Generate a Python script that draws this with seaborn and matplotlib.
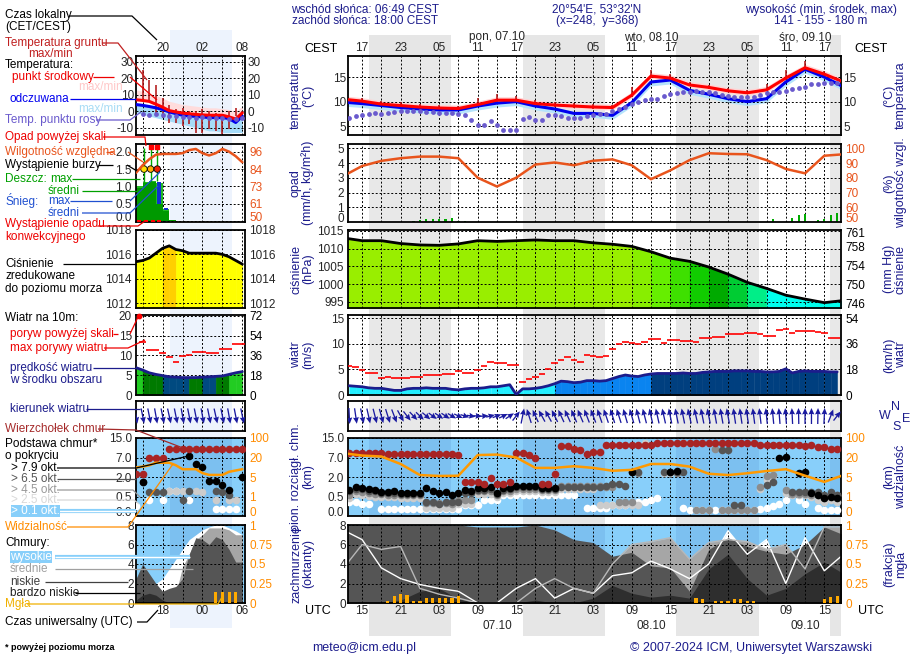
import numpy as np
import matplotlib
matplotlib.use("Agg")
import matplotlib.pyplot as plt
from matplotlib.ticker import NullLocator
import seaborn as sns

sns.set_style("white")
plt.rcParams["font.family"] = ["Liberation Sans", "DejaVu Sans"]
plt.rcParams["font.size"] = 8.5
plt.rcParams["axes.unicode_minus"] = False

n = np.nan

# ---------------- data (hours UTC counted from 06.10 00:00) ----------------
hours = np.arange(13, 90)          # hourly values
hours3 = np.arange(12, 91, 3)      # 3-hourly values
t_start, t_end = 12.8, 89.6
nights = [(16.0, 28.8), (40.0, 52.8), (63.9, 76.9), (87.9, 89.6)]

major_h = np.arange(15, 88, 6)
minor_h = np.arange(18, 88, 6)
lbl_cest = ["17", "23", "05", "11", "17", "23", "05", "11", "17", "23", "05", "11", "17"]
lbl_utc = ["15", "21", "03", "09", "15", "21", "03", "09", "15", "21", "03", "09", "15"]
day_h = [36, 60, 84]
day_top = ["pon, 07.10", "wto, 08.10", "śro, 09.10"]
day_bot = ["07.10", "08.10", "09.10"]

temp = np.array([10.5, 10.1, 9.5, 9.2, 8.9, 8.7, 8.6, 9.4, 10.3, 10.3, 9.6, 9.3, 9.1, 8.9,
                 8.8, 11.3, 15.2, 14.8, 13.4, 12.9, 12.2, 11.8, 12.4, 14.8, 16.9, 15.6, 14.0])
feel = np.array([9.9, 9.6, 9.2, 8.8, 8.5, 8.3, 8.3, 9.1, 9.7, 10.0, 9.1, 8.5, 7.6, 7.6,
                 7.2, 9.8, 14.0, 14.4, 12.3, 11.5, 10.6, 10.0, 10.6, 14.0, 16.6, 15.0, 13.0])
ground_max = np.array([11.3, 10.8, 10.2, 9.9, 9.6, 9.3, 9.2, 10.8, 11.6, 11.2, 10.3, 10.0, 9.8, 9.5,
                       9.4, 13.0, 16.4, 15.6, 14.0, 13.4, 12.7, 12.4, 13.6, 16.5, 18.2, 16.3, 14.8])
ground_min = np.array([10.2, 9.8, 9.2, 8.9, 8.6, 8.4, 8.3, 9.1, 10.0, 10.0, 9.3, 9.0, 8.8, 8.6,
                       8.5, 11.0, 14.9, 14.5, 13.1, 12.6, 11.9, 11.5, 12.1, 14.5, 16.6, 15.3, 13.7])
dew = np.array([6.6, 7.0, 7.2, 7.4, 7.6, 7.5, 7.7, 7.8, 8.0, 8.0, 8.1, 8.0,
                7.8, 7.9, 7.7, 7.6, 7.6, 7.4, 7.2, 6.2, 5.2, 5.2, 6.0, 5.2,
                4.2, 4.2, 4.2, 6.5, 6.8, 6.2, 6.2, 7.3, 7.3, 7.0, 6.6, 6.6,
                6.6, 7.0, 7.3, 7.5, 7.5, 8.0, 8.5, 9.0, 9.5, 9.9, 10.3, 10.6,
                10.6, 11.1, 11.6, 11.8, 11.9, 12.0, 12.1, 12.0, 11.9, 11.8, 11.4, 11.1,
                11.0, 11.0, 11.0, 11.0, 11.3, 11.7, 11.9, 11.9, 12.2, 12.5, 12.7, 13.0,
                13.5, 13.5, 13.7, 13.7, 13.8])

humid = np.array([81, 88, 91.5, 93.3, 94.4, 94.4, 93.3, 80, 74, 80, 89, 90.4, 88.5, 91.6,
                  92.5, 88.5, 79, 85, 92, 96.7, 96.2, 96, 92, 86, 83, 95, 96])
rain_h = [23, 24, 25, 26, 27, 28, 29, 30, 31, 79, 82, 83, 84, 86, 87, 88, 89]
rain_v = [0.1, 0.15, 0.2, 0.18, 0.2, 0.18, 0.3, 0.08, 0.05, 0.2, 0.3, 0.45, 0.55, 0.15, 0.2, 0.45, 0.6]

press = np.array([1013.0, 1012.2, 1012.2, 1011.4, 1011.0, 1010.9, 1011.3, 1012.2, 1012.0, 1012.2,
                  1012.4, 1012.2, 1012.2, 1011.6, 1011.2, 1010.6, 1009.1, 1007.3, 1006.4, 1004.8,
                  1002.8, 1000.5, 998.8, 996.9, 995.8, 994.8, 995.4])

wind = np.array([1.8, 1.7, 1.6, 1.4, 1.3, 1.3, 1.1, 0.9, 0.9, 1.2, 1.3, 1.3,
                 1.4, 1.3, 1.3, 1.3, 1.1, 1.0, 1.2, 1.3, 1.3, 1.4, 1.6, 1.6,
                 1.8, 2.0, 0.1, 1.2, 1.2, 1.3, 1.5, 1.8, 2.2, 2.7, 2.6, 2.4,
                 2.5, 2.8, 2.8, 2.7, 2.8, 3.2, 3.6, 3.9, 3.7, 3.6, 3.9, 4.1,
                 4.2, 4.2, 4.2, 4.2, 4.3, 4.2, 4.2, 4.4, 4.5, 4.6, 4.6, 4.6,
                 4.7, 4.7, 4.7, 4.6, 4.6, 4.5, 4.5, 4.6, 5.1, 4.3, 4.6, 4.7,
                 4.6, 4.6, 4.6, 4.5, 4.5])
gust = np.array([5.6, 5.5, 4.9, 4.3, 4.3, 3.4, 3.5, 3.4, 3.3, 3.3, 3.5, 3.5,
                 3.9, 3.9, 3.9, 4.1, 4.1, 4.6, 4.2, 4.2, 4.8, 5.6, 6.5, 6.3,
                 6.3, 5.9, 5.9, 2.6, 3.1, 3.5, 4.1, 5.1, 6.3, 6.9, 7.5, 6.9,
                 6.5, 7.8, 7.6, 7.4, 7.6, 9.0, 10.0, 10.3, 10.2, 9.9, 10.4, 11.0,
                 11.0, 10.1, 10.7, 10.7, 10.6, 10.5, 10.4, 11.1, 11.1, 11.4, 11.4, 11.8,
                 11.9, 11.9, 12.1, 12.1, 11.8, 11.6, 11.6, 12.7, 12.9, 12.1, 12.4, 12.4,
                 12.4, 12.3, 12.1, 11.1, 11.1])
wdir = np.array([355, 345, 340, 338, 335, 333, 330, 325, 315, 305, 300, 298,
                 295, 292, 290, 290, 288, 285, 280, 275, 272, 268, 262, 258,
                 255, 250, 235, 200, 150, 140, 135, 135, 138, 140, 140, 142,
                 142, 145, 145, 148, 148, 150, 150, 152, 152, 155, 155, 158,
                 158, 158, 160, 160, 160, 158, 158, 160, 160, 162, 162, 162,
                 165, 165, 165, 167, 168, 170, 170, 172, 172, 175, 178, 180,
                 180, 182, 185, 215, 235])

# cloud tops and cloud bases by coverage class (km a.s.l.)
cl_top = np.array([9.0, 9.0, 9.0, 9.0, 9.0, 9.0, 8.6, 8.6, 8.6, 8.6, 8.6, 8.6,
                   8.6, 8.6, 8.6, 8.4, 8.4, 8.0, 1.6, 1.6, 1.6, 1.5, 1.9, 1.5,
                   1.5, 1.6, 9.0, 9.0, 8.2, 7.0, 1.5, 1.5, 2.8, 11.6, 11.6, 10.6,
                   10.0, 8.6, 9.4, 9.4, 12.0, 12.0, 12.0, 12.0, 12.0, 12.0, 12.0, 12.0,
                   13.0, 13.0, 13.0, 13.0, 13.0, 13.0, 13.0, 13.0, 13.0, 13.0, 13.0, 13.0,
                   13.0, 13.0, 13.0, 13.0, 12.2, 12.2, 12.2, 12.2, 12.2, 12.2, 12.2, 11.6,
                   12.0, 11.2, 11.5, 10.4, 10.6])
cl_79 = np.array([1.0, 1.25, 1.18, 1.07, 1.0, 0.86, 0.86, 0.92, 0.8, 0.8, 0.8, 0.8,
                  1.13, 0.92, 0.74, 0.86, 0.6, 0.8, 1.0, 0.92, 1.18, 1.18, 1.25, 0.8,
                  1.13, 1.18, 1.33, 1.33, 1.33, 1.33, 1.13, 1.13, 1.13, n, n, n,
                  n, n, n, n, n, n, n, n, 3.3, n, n, n,
                  n, n, 3.4, 3.5, n, n, n, n, n, n, n, n,
                  n, n, n, n, n, n, n, 6.8, 7.2, n, 2.9, 3.2,
                  0.74, 0.6, 0.45, 0.5, 0.45])
cl_65 = np.array([0.9, 1.1, 1.05, 0.95, 0.9, 0.8, 0.75, 0.8, 0.7, 0.7, 0.7, 0.7,
                  0.37, 0.37, 0.3, 0.37, 0.37, 0.37, 0.8, 0.8, 1.0, 1.0, 1.1, 0.7,
                  1.0, 1.05, 1.2, 1.2, 1.2, 1.2, 1.05, 1.05, 1.05, 1.2, 1.2, 1.2,
                  1.2, 1.2, 1.2, 1.2, 1.3, 1.5, 1.5, 1.3, 3.2, 3.2, n, n,
                  n, 3.3, 3.3, 3.4, 3.2, n, n, n, n, n, 10.2, 10.2,
                  0.27, 0.27, n, n, n, 1.4, 1.6, n, n, 0.86, 0.86, 0.86,
                  0.86, 0.86, 0.6, 0.86, 0.6])
cl_45 = np.array([0.6, 0.9, 0.85, 0.75, 0.7, 0.7, 0.65, 0.65, 0.6, 0.6, 0.6, 0.6,
                  0.33, 0.33, 0.33, 0.33, 0.3, 0.42, 0.42, 0.42, 0.9, 0.9, 0.9, 0.6,
                  0.9, 0.9, 1.1, 1.1, 1.1, 1.1, 1.0, 1.0, 1.0, 1.33, 1.33, 1.33,
                  1.33, 1.33, 1.33, 1.33, 1.2, 1.2, 0.35, 0.35, 0.35, 3.0, n, n,
                  n, n, n, 3.0, n, n, 0.15, 0.15, 0.15, 10.5, 0.15, 0.15,
                  0.15, 0.15, 0.15, 0.15, 1.2, 2.2, 2.6, n, 1.0, 0.7, 0.7, 0.7,
                  0.6, 0.6, 0.45, 0.6, 0.6])
cl_25 = np.array([0.45, 0.7, 0.6, 0.55, 0.5, 0.5, 0.5, 0.5, 0.45, 0.45, 0.45, 0.45,
                  0.2, 0.2, 0.2, 0.2, 0.2, 0.3, 0.3, 0.3, 0.7, 0.7, 0.7, 0.5,
                  0.8, 0.8, 0.9, 0.9, 0.9, 0.9, 0.85, 0.85, 0.85, 1.1, 1.1, 1.1,
                  1.1, 1.1, 1.1, 0.27, 0.27, 0.27, 0.27, 0.27, 0.27, 0.27, 13.0, n,
                  n, 3.0, 3.0, n, 13.0, n, n, n, n, n, n, n,
                  n, n, n, n, 1.1, 1.8, 2.2, n, 0.8, 0.6, 0.6, 0.6,
                  0.5, 0.4, 0.35, 0.4, 0.35])
cl_01 = np.array([0.35, 0.35, 0.32, 0.32, n, 0.17, 0.17, 0.17, 0.17, 0.17, 0.17, 0.17,
                  0.17, 0.17, 0.17, 0.17, 0.17, 0.17, 0.28, 0.28, 0.28, 0.4, 0.4, 0.4,
                  0.65, 0.65, 0.65, 0.65, 0.65, 0.65, 0.65, 0.65, 0.65, 0.65, 0.65, 0.65,
                  n, 0.2, 0.2, 0.2, 0.2, 0.27, 0.27, 0.27, 0.3, 0.35, 0.35, 0.4,
                  0.45, n, n, n, 0.2, 0.16, 0.16, 0.16, 0.16, 0.16, 0.16, 0.16,
                  0.16, 0.16, 0.16, 0.16, 0.17, 0.2, 0.25, 0.3, 0.4, n, 0.4, 0.3,
                  n, 0.2, 0.16, 0.16, 0.16])
vis = np.array([38, 28, 24, 15, 6.5, 5.8, 6.0, 30, 32, 20, 12, 12, 13.3, 12,
                9.8, 10.5, 15, 15, 13, 7.5, 6.5, 7.9, 9.6, 11, 6.0, 4.0, 6.5])

# cloud cover (oktas) and fog (fraction)
cc_high = np.array([7.5, 6.5, 3.6, 2.5, 1.9, 1.5, 1.2, 0, 0, 1.5, 2.5, 0.5, 1.5, 1.0,
                    2.8, 3.1, 4.3, 3.5, 2.5, 4.0, 7.4, 5.0, 6.5, 2.0, 6.7, 3.3, 5.0])
cc_mid = np.array([3.5, 6.0, 5.5, 5.8, 1.5, 0.9, 0.5, 0, 0, 0, 1.5, 2.5, 1.5, 1.0,
                   4.0, 6.0, 6.3, 6.7, 4.5, 6.2, 6.5, 6.3, 5.5, 6.0, 3.5, 7.8, 7.8])
cc_low = np.array([8, 8, 8, 8, 8, 8, 8, 7.8, 7.8, 7.8, 8, 7.5, 6.5, 6.2,
                   4.8, 5.2, 3.8, 3.6, 1.2, 5.5, 6.7, 5.8, 5.3, 5.0, 6.0, 7.8, 7.0])
cc_vlow = np.array([0, 0, 0, 0.3, 1.2, 1.5, 0.4, 0, 0, 0, 0.3, 0, 0, 0.5,
                    1.8, 1.0, 0.6, 0.8, 0.5, 3.5, 5.0, 2.5, 0.8, 1.5, 3.0, 4.2, 3.0])
fog_h = [19, 20, 21, 22, 23, 24, 25, 26, 27, 28, 29, 30, 67, 68, 70, 71, 72, 73, 74, 75, 76, 87, 88, 89]
fog_v = [0.03, 0.085, 0.11, 0.1, 0.03, 0.03, 0.065, 0.065, 0.065, 0.06, 0.065, 0.085,
         0.06, 0.05, 0.03, 0.02, 0.03, 0.045, 0.045, 0.03, 0.02, 0.05, 0.08, 0.09]

# ---- legend (left column) sample data, local panel hours 0..16
leg_h = np.arange(0, 17)
leg_night = (5.1, 14.4)
leg_temp = [6.9, 6.5, 5.9, 4.2, 2.4, 0.3, -0.5, -1.2, -1.6, -2.0, -2.3, -2.5, -2.5, -2.5, -3.5, -4.8, -1.0]
leg_temp_hi = [13, 12, 11, 9.5, 8, 6, 5, 4, 3.5, 3, 2.5, 2, 2, 1.5, 1, 0, 3]
leg_feel = [4.0, 3.5, 2.8, 2.0, 1.0, -0.5, -1.5, -2.5, -2.9, -3.2, -3.5, -3.9, -3.9, -3.9, -4.5, -6.9, -3.0]
leg_feel_lo = [-1, -2, -3, -4, -5, -6, -7, -8, -9, -10, -11, -12, -12, -13, -13, -13, -13]
leg_dew = [n, -2.0, -2.2, -2.0, -2.5, -2.8, -3.0, -3.5, -3.5, -4.0, -3.8, -4.0, -4.2, -4.0, -4.5, -5.0, -4.0]
leg_gh = np.arange(1, 16)
leg_gmax = [25, 19, 16, 8, 4, 1, 2, 0, 0, 1, 0, -1, -2, 0, 2]
leg_gmin = [6, 6, -2, -4, -7, -7, -9, -8, -13, -13, -11, -12, -14, -11, -3]
leg_rain_h = [0.5, 1.5, 2.5, 3.5, 4.5, 5.5]
leg_rain_max = [1.0, 1.12, 1.15, 1.1, 0.35, 0.05]
leg_rain_mean = [0.95, 1.1, 1.12, 0.5, 0.3, 0.05]
leg_snow_max = [0, 0, 0, 1.12, 0.38, 0]
leg_snow_mean = [0, 0, 0, 0.5, 0.33, 0]
leg_storm_h = [1.2, 2.2, 3.2]
leg_hum = [82, 87, 91, 94, 94.5, 94.5, 94.5, 95, 97, 97.8, 95, 93.5, 95, 97.8, 96, 93, 89]
leg_press = [1015.4, 1015.5, 1015.7, 1016.1, 1016.5, 1016.7, 1016.4, 1016.3, 1016.1, 1016.1,
             1016.1, 1016.1, 1016.1, 1016.0, 1015.8, 1015.5, 1015.2]
leg_wind = [6.9, 6.3, 5.6, 5.2, 4.9, 4.6, 4.5, 4.4, 4.4, 4.4, 4.5, 4.6, 4.7, 4.8, 5.2, 5.6, 5.9]
leg_wind_cls = ["L", "D", "D", "D", "N", "N", "N", "N", "D", "D", "N", "N", "D", "D", "L", "L"]
leg_gust = [n, 13.5, 11.4, 11.4, 10.5, 9.6, 8.4, 9.9, 10.2, 10.8, 10.8, 10.5, 10.5, 11.7, 11.7, 12.8, 12.8]
leg_wdir = [342, 340, 340, 342, 340, 338, 340, 342, 340, 340, 342, 340, 338, 340, 342, 340, 340]
leg_top = [2.7, 2.7, 6.8, 6.8, 6.8, 10.5, 10.5, 10.5, 10.5, 10.5, 10.5, 10.5, 10.5, 10.5, 10.5, 10.5, 10.5]
leg_79 = [n, 1.64, n, n, n, n, n, n, 7.6, 5.3, 4.65, 1.7, 1.7, 1.38, 1.0, n, 2.05]
leg_65 = [n, 1.64, 0.86, 0.86, 0.86, n, n, 0.4, 0.9, n, n, n, 0.9, 0.86, 0.6, n, n]
leg_25 = [n, n, n, n, n, 0.9, 0.9, 0.9, n, 0.9, 0.85, n, 0.4, n, 0.4, 0.4, n]
leg_01 = [0.25, n, 0.4, n, 0.4, 0.9, 0.9, n, 0.4, n, n, n, 0.17, 0.17, 0.17, 0.17, n]
leg_vis = [12.3, 13, 14, 16, 16, 16, 14, 11, 11, 11, 8, 6.6, 6.6, 6.6, 9, 10, 11]
leg_high = [0.5, 1, 1.5, 2, 2.5, 3.5, 4.5, 5.5, 6.5, 7.0, 7.5, 7.8, 8.0, 8.0, 7.7, 7.4, 7.0]
leg_mid = [0, 0, 0, 0, 0, 0, 1.0, 3.7, 5.0, 6.5, 7.0, 7.7, 7.7, 7.7, 7.5, 7.0, 7.0]
leg_low = [2.5, 4.0, 3.0, 2.0, 1.2, 1.5, 1.7, 2.5, 5.0, 6.7, 6.5, 6.0, 6.8, 6.5, 5.5, 4.2, 4.2]
leg_vlow = [0.3, 0.8, 1.0, 0.8, 0.3, 0, 0, 0, 0, 0, 0, 0, 0, 0, 0, 0, 0]
leg_fog_h = [12, 13, 14, 15]
leg_fog = [0.14, 0.14, 0.14, 0.14]

# ---------------- styling ----------------
W, H = 910, 660
NAVY = "#1c1c8c"
RED = "#ee0000"
HUM = "#e8541c"
ORANGE = "#ff8c00"
SKY, SKY_N = "#88cffa", "#7cc0f0"
GRID = dict(color="black", linestyle=(0, (2, 2)), linewidth=0.7)
MX0, MX1 = 348, 841
LX0, LX1 = 136, 245
rows = {"temp": (56, 135), "rain": (144, 222), "press": (230, 308), "wind": (315, 395),
        "wdir": (401, 431), "cbase": (438, 516), "cc": (525, 603)}
km_lv = [0, 0.5, 2, 7, 15]
vis_lv = [0, 1, 5, 20, 100]
idx_lv = [0, 1, 2, 3, 4]
km_scale = (lambda y: np.interp(y, km_lv, idx_lv), lambda i: np.interp(i, idx_lv, km_lv))
vis_scale = (lambda y: np.interp(y, vis_lv, idx_lv), lambda i: np.interp(i, idx_lv, vis_lv))
press_bins = [999, 1002, 1003.3, 1005, 1006.5, 1008.5, 1010, 1010.8, 1013.5, 1016.45]
press_cols = ["#00ffee", "#00ee88", "#00cc33", "#00aa00", "#11cc00", "#3ee000", "#66ee00",
              "#88ee00", "#99ee00", "#ffff00", "#ffd000"]
leg_wind_cols = {"L": "#22cc22", "D": "#007a00", "N": "#004a80"}

fig = plt.figure(figsize=(W / 100, H / 100), dpi=100)


def px_axes(x0, y0, x1, y1, z=1):
    return fig.add_axes([x0 / W, 1 - y1 / H, (x1 - x0) / W, (y1 - y0) / H], zorder=z)


def frame(ax):
    for s in ax.spines.values():
        s.set_visible(True)
        s.set_color("black")
        s.set_linewidth(1.3)


def panel(x0, x1, key, xlim, spans, span_col, ylim, yticks, ylabels, bg, yscale, major, minor):
    y0, y1 = rows[key]
    ax = px_axes(x0, y0, x1, y1)
    ax.set_facecolor(bg)
    if yscale is not None:
        ax.set_yscale("function", functions=yscale)
    for a, b in spans:
        ax.axvspan(a, b, color=span_col, lw=0, zorder=0)
    ax.set_xlim(*xlim)
    ax.set_ylim(*ylim)
    ax.set_xticks(major)
    ax.set_xticks(minor, minor=True)
    ax.set_yticks(yticks)
    ax.yaxis.set_minor_locator(NullLocator())
    if ylabels is not None:
        ax.set_yticklabels(ylabels)
    ax.tick_params(which="both", length=0, pad=3, labelbottom=False)
    ax.grid(True, which="both", **GRID)
    ax.set_axisbelow("line")
    frame(ax)
    return ax


def main_panel(key, ylim, yticks, ylabels=None, bg="white", night="#e8e8e8", yscale=None):
    return panel(MX0, MX1, key, (t_start, t_end), nights, night, ylim, yticks, ylabels,
                 bg, yscale, major_h, minor_h)


def leg_panel(key, ylim, yticks, ylabels=None, bg="white", night="#edf3fd", yscale=None):
    return panel(LX0, LX1, key, (0, 16.4), [leg_night], night, ylim, yticks, ylabels,
                 bg, yscale, [4, 10, 16], [1, 7, 13])


def twin(ax, ylim, ticks, color, labels=None, yscale=None):
    tw = ax.twinx()
    if yscale is not None:
        tw.set_yscale("function", functions=yscale)
    tw.set_ylim(*ylim)
    tw.set_yticks(ticks)
    tw.yaxis.set_minor_locator(NullLocator())
    if labels is not None:
        tw.set_yticklabels(labels)
    tw.tick_params(length=0, pad=3, labelcolor=color)
    tw.grid(False)
    for s in tw.spines.values():
        s.set_visible(False)
    return tw


def lift_bottom(*axes):
    # keep the lowest tick label clear of the panel below
    for a in axes:
        t = a.yaxis.get_major_ticks()[0]
        t.label1.set_verticalalignment("baseline")
        t.label2.set_verticalalignment("baseline")


def seg_fill(ax, x, y, colors, base):
    for i in range(len(x) - 1):
        ax.fill_between(x[i:i + 2], base, y[i:i + 2], color=colors[i], lw=0.4,
                        edgecolor=colors[i], zorder=1)


def top_labels(ax, labels):
    ax.tick_params(which="both", top=False, bottom=False, length=0, labeltop=True, pad=1.5)
    ax.set_xticklabels(labels)


def bottom_labels(ax, labels):
    ax.tick_params(which="both", top=False, bottom=False, length=0, labelbottom=True, pad=1.5)
    ax.set_xticklabels(labels)


# background night bands behind the panels
bg = px_axes(MX0, 35, MX1, 636, z=-5)
bg.set_xlim(t_start, t_end)
for a, b in nights:
    bg.axvspan(a, b, color="#e6e6e6", lw=0)
bg.axis("off")
bgl = px_axes(LX0, 30, LX1, 628, z=-5)
bgl.set_xlim(0, 16.4)
bgl.axvspan(*leg_night, color="#edf3fd", lw=0)
bgl.axis("off")

ARROWS = dict(pivot="middle", angles="uv", scale_units="inches", scale=1 / 0.16, units="inches",
              width=0.013, headwidth=4.5, headlength=5, headaxislength=4.5, color="#1a1aa0", zorder=3)

# ---------------- main panels ----------------
# temperature
ax = main_panel("temp", (3.2, 19.3), [5, 10, 15])
ax.fill_between(hours3, temp - 0.5, temp + 0.7, color="#ffd5d5", lw=0)
ax.fill_between(hours3, feel - 0.8, feel + 0.4, color="#b5e3fb", lw=0)
ax.vlines(hours3, ground_min, ground_max, color="#b01010", lw=1.1, zorder=2)
sns.lineplot(x=hours3, y=feel, ax=ax, color="#0000ee", lw=2.2, zorder=3)
sns.lineplot(x=hours3, y=temp, ax=ax, color="#ff0000", lw=2.2, zorder=3)
sns.scatterplot(x=hours, y=dew, ax=ax, color="#6a5acd", s=12, linewidth=0, zorder=4)
ax.tick_params(labelright=True)
top_labels(ax, lbl_cest)
for h, s in zip(day_h, day_top):
    ax.text(h, 1.235, s, transform=ax.get_xaxis_transform(), ha="center", va="center")

# precipitation + humidity
ax = main_panel("rain", (0, 5.3), [0, 1, 2, 3, 4, 5])
ax.bar(rain_h, rain_v, width=0.35, color="#00aa00", linewidth=0, zorder=2)
tw = twin(ax, (49.8, 103), [50, 60, 70, 80, 90, 100], HUM)
sns.lineplot(x=hours3, y=humid, ax=tw, color=HUM, lw=1.8)
lift_bottom(ax, tw)

# pressure
ax = main_panel("press", (993.3, 1015.2), [995, 1000, 1005, 1010, 1015])
seg_fill(ax, hours3, press, [press_cols[np.searchsorted(press_bins, p)] for p in press], 990)
sns.lineplot(x=hours3, y=press, ax=ax, color="black", lw=2, zorder=3)
twin(ax, (993.3 * 0.75006, 1015.2 * 0.75006), [746, 750, 754, 758, 761], "black")

# wind speed and gusts
ax = main_panel("wind", (0, 15.6), [0, 5, 10, 15])
wcols = ["#22eeff" if w < 2.1 else ("#0a84f0" if w < 4.0 else "#003f7f") for w in wind]
seg_fill(ax, hours, wind, wcols, 0)
sns.lineplot(x=hours, y=wind, ax=ax, color=NAVY, lw=2, zorder=3)
ax.hlines(gust, hours - 0.5, hours + 0.5, color="red", lw=1.2, zorder=3)
twin(ax, (0, 15.6 * 3.6), [0, 18, 36, 54], "black")

# wind direction
ax = main_panel("wdir", (0, 1), [])
rad = np.radians(wdir)
ax.quiver(hours, np.full(len(hours), 0.5), -np.sin(rad) * 0.55, -np.cos(rad), **ARROWS)

# cloud base / top + visibility
ax = main_panel("cbase", (0, 15), km_lv, ["0.0", "0.5", "2.0", "7.0", "15.0"],
                bg=SKY, night=SKY_N, yscale=km_scale)
for arr, col in [(cl_01, "white"), (cl_25, "#cccccc"), (cl_45, "#8c8c8c"),
                 (cl_65, "#555555"), (cl_79, "black"), (cl_top, "#a82424")]:
    sns.scatterplot(x=hours, y=arr, ax=ax, color=col, s=30, linewidth=0, zorder=4)
tw = twin(ax, (0, 100), vis_lv, ORANGE, ["0", "1", "5", "20", "100"], yscale=vis_scale)
sns.lineplot(x=hours3, y=vis, ax=tw, color="#ff9900", lw=1.8)
lift_bottom(ax, tw)

# cloud cover + fog
ax = main_panel("cc", (0, 8), [0, 2, 4, 6, 8], bg=SKY, night=SKY_N)
ax.fill_between(hours3, 0, cc_high, color="white", lw=0, zorder=1)
ax.fill_between(hours3, 0, cc_mid, color="#a6a6a6", lw=0, zorder=1)
ax.fill_between(hours3, 0, cc_low, color="#555555", lw=0, zorder=1)
ax.fill_between(hours3, 0, cc_vlow, color="#2e2e2e", lw=0, zorder=1)
sns.lineplot(x=hours3, y=cc_high, ax=ax, color="white", lw=1, zorder=2)
sns.lineplot(x=hours3, y=cc_mid, ax=ax, color="#b8b8b8", lw=1, zorder=2)
bottom_labels(ax, lbl_utc)
for h, s in zip(day_h, day_bot):
    ax.text(h, -0.30, s, transform=ax.get_xaxis_transform(), ha="center", va="center")
tw = twin(ax, (0, 1), [0, 0.25, 0.5, 0.75, 1], ORANGE, ["0", "0.25", "0.5", "0.75", "1"])
tw.bar(fog_h, fog_v, width=0.5, color="#ffaa00", linewidth=0, zorder=3)

# ---------------- legend panels (left column) ----------------
ax = leg_panel("temp", (-14.5, 33.5), [-10, 0, 10, 20, 30])
ax.fill_between(leg_h, leg_temp, leg_temp_hi, color="#ffdcdc", lw=0)
ax.fill_between(leg_h, leg_feel_lo, leg_feel, color="#a6dcf8", lw=0)
ax.vlines(leg_gh, leg_gmin, leg_gmax, color="#b01010", lw=1.1, zorder=2)
sns.lineplot(x=leg_h, y=leg_feel, ax=ax, color="#0000ee", lw=2.2, zorder=3)
sns.lineplot(x=leg_h, y=leg_temp, ax=ax, color="#ff0000", lw=2.2, zorder=3)
sns.scatterplot(x=leg_h, y=leg_dew, ax=ax, color="#6a5acd", s=12, linewidth=0, zorder=4)
ax.tick_params(labelright=True)
top_labels(ax, ["20", "02", "08"])

ax = leg_panel("rain", (-0.02, 2.22), [0, 0.5, 1, 1.5, 2], ["0.0", "0.5", "1.0", "1.5", "2.0"])
ax.bar(leg_rain_h, leg_rain_max, width=1, color="#22bb22", linewidth=0, zorder=2)
ax.bar(leg_rain_h, leg_rain_mean, width=1, color="#009900", linewidth=0, zorder=2)
ax.bar(leg_rain_h, np.subtract(leg_snow_max, leg_snow_mean), bottom=leg_snow_mean,
       width=0.6, color="#1030d0", linewidth=0, zorder=2)
ax.vlines(leg_storm_h, [1.0, 1.12, 1.15], 2.1, color="#00aa00", lw=1, zorder=2)
ax.scatter(leg_storm_h, [1.5, 1.5, 1.5], c=["#ffdd00", "#ffaa00", "#ee2200"], s=22,
           edgecolors="black", linewidths=0.6, zorder=5)
ax.scatter(leg_storm_h[1:], [2.12, 2.12], color="red", marker="s", s=10, zorder=5)
ax.hlines([0, 0, 0, 0], [0.2, 1.2, 2.2, 3.2], [0.8, 1.8, 2.8, 3.8], color="red", lw=1.5, zorder=5)
tw = twin(ax, (50 - 23 * 0.02, 50 + 23 * 2.22), [50, 61.5, 73, 84.5, 96], HUM,
          ["50", "61", "73", "84", "96"])
sns.lineplot(x=leg_h, y=leg_hum, ax=tw, color=HUM, lw=1.8)
lift_bottom(ax, tw)

ax = leg_panel("press", (1011.6, 1018.0), [1012, 1014, 1016, 1018])
seg_fill(ax, leg_h, leg_press, [press_cols[np.searchsorted(press_bins, p)] for p in leg_press], 1010)
sns.lineplot(x=leg_h, y=leg_press, ax=ax, color="black", lw=2, zorder=3)
ax.tick_params(labelright=True)

ax = leg_panel("wind", (0, 20.2), [0, 5, 10, 15, 20])
seg_fill(ax, leg_h, leg_wind, [leg_wind_cols[c] for c in leg_wind_cls], 0)
sns.lineplot(x=leg_h, y=leg_wind, ax=ax, color=NAVY, lw=2, zorder=3)
ax.hlines(leg_gust, leg_h - 0.5, leg_h + 0.5, color="red", lw=1.2, zorder=3)
ax.scatter([0.4], [19.9], color="red", s=10, zorder=5, clip_on=False)
twin(ax, (0, 20.2 * 3.6), [0, 18, 36, 54, 72], "black")

ax = leg_panel("wdir", (0, 1), [])
lrad = np.radians(leg_wdir)
ax.quiver(leg_h, np.full(len(leg_h), 0.5), -np.sin(lrad) * 0.55, -np.cos(lrad), **ARROWS)

ax = leg_panel("cbase", (0, 15), km_lv, ["0.0", "0.5", "2.0", "7.0", "15.0"],
               bg=SKY, night=SKY_N, yscale=km_scale)
for arr, col in [(leg_01, "white"), (leg_25, "#cccccc"), (leg_65, "#555555"),
                 (leg_79, "black"), (leg_top, "#a82424")]:
    sns.scatterplot(x=leg_h, y=arr, ax=ax, color=col, s=30, linewidth=0, zorder=4)
tw = twin(ax, (0, 100), vis_lv, ORANGE, ["0", "1", "5", "20", "100"], yscale=vis_scale)
sns.lineplot(x=leg_h, y=leg_vis, ax=tw, color="#ff9900", lw=1.8)
lift_bottom(ax, tw)

ax = leg_panel("cc", (0, 8), [0, 2, 4, 6, 8], bg=SKY, night=SKY_N)
ax.fill_between(leg_h, 0, leg_high, color="white", lw=0, zorder=1)
ax.fill_between(leg_h, 0, leg_mid, color="#a6a6a6", lw=0, zorder=1)
ax.fill_between(leg_h, 0, leg_low, color="#555555", lw=0, zorder=1)
ax.fill_between(leg_h, 0, leg_vlow, color="#2e2e2e", lw=0, zorder=1)
bottom_labels(ax, ["18", "00", "06"])
tw = twin(ax, (0, 1), [0, 0.25, 0.5, 0.75, 1], ORANGE, ["0", "0.25", "0.5", "0.75", "1"])
tw.bar(leg_fog_h, leg_fog, width=0.45, color="#ffaa00", linewidth=0, zorder=3)

# ---------------- texts and leader lines ----------------
ov = px_axes(0, 0, W, H, z=20)
ov.set_xlim(0, W)
ov.set_ylim(H, 0)
ov.axis("off")
ov.patch.set_alpha(0)


def txt(x, y, s, color="black", ha="left", **kw):
    ov.text(x, y, s, color=color, ha=ha, va="center", **kw)


def lead(pts, color, lw=0.9):
    xs, ys = zip(*pts)
    ov.plot(xs, ys, color=color, lw=lw, solid_capstyle="butt")


# header
txt(365, 10, "wschód słońca: 06:49 CEST", NAVY, "center")
txt(365, 21, "zachód słońca: 18:00 CEST", NAVY, "center")
txt(597, 10, "20°54'E, 53°32'N", NAVY, "center")
txt(597, 21, "(x=248,  y=368)", NAVY, "center")
txt(821, 10, "wysokość (min, środek, max)", NAVY, "center")
txt(821, 21, "141 - 155 - 180 m", NAVY, "center")
txt(321, 49, "CEST", "black", "center", fontsize=9)
txt(871, 49, "CEST", "black", "center", fontsize=9)
txt(318, 611, "UTC", "black", "center", fontsize=9)
txt(871, 611, "UTC", "black", "center", fontsize=9)

# rotated axis titles
side = [("temp", "temperatura\n(°C)", "(°C)\ntemperatura"),
        ("rain", "opad\n(mm/h, kg/m²h)", "(%)\nwilgotność wzgl."),
        ("press", "ciśnienie\n(hPa)", "(mm Hg)\nciśnienie"),
        ("wind", "wiatr\n(m/s)", "(km/h)\nwiatr"),
        ("cbase", "pion. rozciągł. chm.\n(km)", "(km)\nwidzialność"),
        ("cc", "zachmurzenie\n(oktanty)", "(frakcja)\nmgła")]
for key, left, right in side:
    yc = sum(rows[key]) / 2
    ov.text(302, yc, left, color=NAVY, rotation=90, ha="center", va="center",
            multialignment="center", fontsize=9, linespacing=1.0)
    ov.text(895, yc, right, color=NAVY, rotation=90, ha="center", va="center",
            multialignment="center", fontsize=9, linespacing=1.0)
txt(896, 407, "N", NAVY, "center", fontsize=9)
txt(885, 416, "W", NAVY, "center", fontsize=9)
txt(906, 419, "E", NAVY, "center", fontsize=9)
txt(897, 427, "S", NAVY, "center", fontsize=9)

# footer
txt(364, 648, "meteo@icm.edu.pl", NAVY, "center", fontsize=9)
txt(751, 648, "© 2007-2024 ICM, Uniwersytet Warszawski", NAVY, "center", fontsize=9)
txt(5, 648, "* powyżej poziomu morza", "black", fontsize=6.5, fontweight="bold")

# legend column
GT = "#c02020"
txt(5, 15, "Czas lokalny")
txt(5, 27, "(CET/CEST)")
lead([(69, 16), (132, 16), (157, 40)], "black")
txt(5, 43, "Temperatura gruntu", GT)
txt(28, 54, "max/min", GT)
lead([(102, 43), (118, 43), (147, 80)], GT)
txt(5, 65, "Temperatura:")
txt(12, 77, "punkt środkowy", RED)
lead([(93, 77), (114, 77)], RED)
lead([(130, 77), (157, 100)], RED)
txt(78, 87, "max/min", "#ffc8c8")
txt(10, 99, "odczuwana", "#0000ee")
lead([(70, 99), (136, 99)], "#0000ee")
txt(78, 109, "max/min", "#a8dcf5")
txt(5, 120, "Temp. punktu rosy", "#6a5acd")
lead([(96, 120), (130, 120), (141, 112)], "#6a5acd")
txt(5, 137, "Opad powyżej skali", RED)
lead([(103, 137), (145, 137), (146, 146)], RED)
txt(5, 152, "Wilgotność względna", HUM)
lead([(106, 152), (113, 152)], HUM)
lead([(128, 152), (143, 162)], HUM)
txt(5, 165, "Wystąpienie burzy")
lead([(98, 165), (113, 165)], "black")
lead([(127, 165), (137, 171)], "black")
txt(5, 179, "Deszcz:", "#00a000")
txt(50, 179, "max", "#00a000")
lead([(72, 179), (140, 179)], "#00a000")
txt(48, 191, "średni", "#00a000")
lead([(82, 191), (142, 191)], "#00a000")
txt(5, 201, "Śnieg:", "#2050d0")
txt(48, 201, "max", "#2050d0")
lead([(70, 201), (112, 201)], "#2050d0")
lead([(130, 201), (160, 172)], "#2050d0")
txt(48, 213, "średni", "#2050d0")
lead([(82, 213), (130, 213), (158, 186)], "#2050d0")
txt(5, 224, "Wystąpienie opadu", RED)
txt(5, 237, "konwekcyjnego", RED)
lead([(98, 226), (138, 226), (145, 221)], RED)
txt(5, 264, "Ciśnienie")
txt(5, 276, "zredukowane")
txt(5, 289, "do poziomu morza")
lead([(63, 264), (136, 264)], "black")
txt(5, 318, "Wiatr na 10m:")
txt(10, 334, "poryw powyżej skali", RED)
lead([(113, 334), (118, 334)], RED)
lead([(130, 334), (138, 317)], RED)
txt(10, 348, "max porywy wiatru", RED)
lead([(104, 348), (128, 348), (145, 340)], RED)
txt(10, 368, "prędkość wiatru", NAVY)
txt(10, 380, "w środku obszaru", NAVY)
lead([(93, 368), (136, 368)], NAVY)
txt(10, 409, "kierunek wiatru", NAVY)
lead([(86, 409), (140, 409)], NAVY)
txt(5, 429, "Wierzchołek chmur", "#a52a2a")
lead([(98, 429), (136, 430), (183, 448)], "#a52a2a")
txt(5, 444, "Podstawa chmur*")
txt(5, 456, "o pokryciu")
txt(11, 468, "> 7.9 okt.")
lead([(57, 468), (136, 468), (193, 455)], "black")
txt(11, 479, "> 6.5 okt.", "#555555")
lead([(57, 479), (136, 479)], "#555555")
txt(11, 490, "> 4.5 okt.", "#999999")
lead([(57, 490), (133, 490), (140, 497)], "#999999")
txt(11, 500, "> 2.5 okt.", "#d8d8d8")
lead([(57, 500), (134, 500), (139, 504)], "#d8d8d8")
txt(11, 511, "> 0.1 okt.", "white", bbox=dict(facecolor=SKY, edgecolor="none", pad=0.2))
lead([(57, 511), (136, 511)], SKY, lw=3)
lead([(57, 511), (136, 511)], "white", lw=1)
txt(5, 527, "Widzialność", ORANGE)
lead([(67, 527), (128, 527), (173, 464)], ORANGE)
txt(5, 543, "Chmury:")
txt(10, 557, "wysokie", "white", bbox=dict(facecolor=SKY, edgecolor="none", pad=0.2))
lead([(55, 557), (190, 557)], SKY, lw=3)
lead([(55, 557), (190, 557)], "white", lw=1)
txt(10, 569, "średnie", "#a0a0a0")
lead([(55, 569), (193, 569)], "#a0a0a0")
txt(10, 582, "niskie", "#404040")
lead([(45, 582), (128, 582)], "#404040")
txt(10, 593, "bardzo niskie", "#202020")
lead([(75, 593), (140, 593)], "black")
txt(5, 604, "Mgła", "#f0b000")
lead([(27, 604), (218, 604), (222, 597)], "#f0b000")
txt(5, 622, "Czas uniwersalny (UTC)")
lead([(137, 622), (147, 622), (158, 610)], "black")

fig.savefig("out.png", dpi=100)
